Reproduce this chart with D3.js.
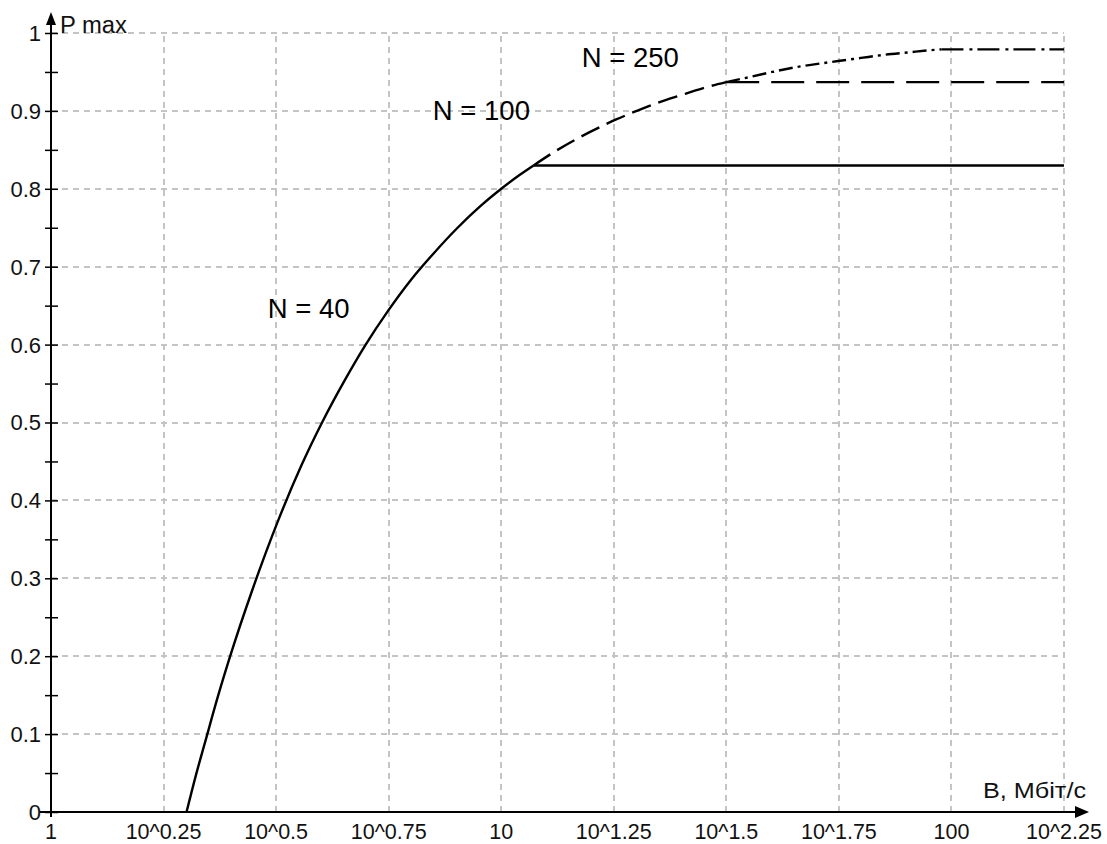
<!DOCTYPE html>
<html>
<head>
<meta charset="utf-8">
<script src="https://cdn.jsdelivr.net/npm/d3@7"></script>
<style>
  html, body { margin: 0; padding: 0; background: #fff; }
  svg { display: block; }
</style>
</head>
<body>
<script>
// values (B in Mbit/s, log axis)
const xTickValues = [1, 10 ** 0.25, 10 ** 0.5, 10 ** 0.75, 10, 10 ** 1.25, 10 ** 1.5, 10 ** 1.75, 100, 10 ** 2.25];
const xTickLabels = ["1", "10^0.25", "10^0.5", "10^0.75", "10", "10^1.25", "10^1.5", "10^1.75", "100", "10^2.25"];
const yTickValues = [0, 0.1, 0.2, 0.3, 0.4, 0.5, 0.6, 0.7, 0.8, 0.9, 1];
const yTickLabels = ["0", "0.1", "0.2", "0.3", "0.4", "0.5", "0.6", "0.7", "0.8", "0.9", "1"];
const yMinorValues = [0.05, 0.15, 0.25, 0.35, 0.45, 0.55, 0.65, 0.75, 0.85, 0.95];

// N = 40 (solid): rising part then flat
const band40 = [2, 2.1, 2.2, 2.35, 2.5, 2.8, 3.2, 3.6, 4, 4.5, 5, 5.6, 6.3, 7.1, 8, 9, 10, 11, 11.8, 177.8];
const pmax40 = [0, 0.048, 0.09, 0.149, 0.2, 0.285, 0.375, 0.445, 0.5, 0.555, 0.6, 0.643, 0.683, 0.718, 0.75, 0.778, 0.8, 0.818, 0.83, 0.83];

// N = 100 (dashed)
const band100 = [11.8, 13, 14.5, 16, 18, 20, 22.4, 25, 28, 31.6, 177.8];
const pmax100 = [0.83, 0.846, 0.862, 0.875, 0.889, 0.9, 0.911, 0.92, 0.929, 0.937, 0.937];

// N = 250 (dash-dot)
const band250 = [31.6, 36, 40, 45, 50, 56, 63, 71, 80, 90, 95, 177.8];
const pmax250 = [0.937, 0.944, 0.95, 0.956, 0.96, 0.964, 0.968, 0.972, 0.975, 0.978, 0.979, 0.979];

const seriesLabels = [
  { text: "N = 40", b: 3.03, p: 0.634 },
  { text: "N = 100", b: 7.05, p: 0.888 },
  { text: "N = 250", b: 15.1, p: 0.956 }
];

const width = 1107;
const height = 844;
const font = "'Liberation Sans', Arial, Helvetica, sans-serif";

const svg = d3.select("body")
  .append("svg")
  .attr("width", width)
  .attr("height", height)
  .attr("viewBox", `0 0 ${width} ${height}`);

const x = d3.scaleLog().domain([1, 10 ** 2.25]).range([51, 1064]);
const y = d3.scaleLinear().domain([0, 1]).range([812, 33]);

// grid
const grid = svg.append("g")
  .attr("stroke", "#c4c4c4")
  .attr("stroke-width", 2)
  .attr("stroke-dasharray", "6,5");

grid.selectAll("line.v")
  .data(xTickValues.slice(1))
  .join("line")
  .attr("class", "v")
  .attr("x1", (d) => Math.round(x(d)))
  .attr("x2", (d) => Math.round(x(d)))
  .attr("y1", y(0))
  .attr("y2", y(1));

grid.selectAll("line.h")
  .data(yTickValues.slice(1))
  .join("line")
  .attr("class", "h")
  .attr("x1", x(1))
  .attr("x2", x(10 ** 2.25))
  .attr("y1", (d) => Math.round(y(d)))
  .attr("y2", (d) => Math.round(y(d)));

// curves
const line = d3.line()
  .x((d) => x(d[0]))
  .y((d) => y(d[1]))
  .curve(d3.curveMonotoneX);

function drawSeries(bands, values, curveDash, flatDash) {
  const pts = bands.map((b, i) => [b, values[i]]);
  const rising = pts.slice(0, -1);
  const flat = pts.slice(-2);
  svg.append("path")
    .attr("d", line(rising))
    .attr("fill", "none")
    .attr("stroke", "#000")
    .attr("stroke-width", 2.4)
    .attr("stroke-dasharray", curveDash);
  svg.append("path")
    .attr("d", d3.line().x((d) => x(d[0])).y((d) => y(d[1]))(flat))
    .attr("fill", "none")
    .attr("stroke", "#000")
    .attr("stroke-width", 2.4)
    .attr("stroke-dasharray", flatDash);
}

drawSeries(band40, pmax40, null, null);
drawSeries(band100, pmax100, "20,8", "33,12");
drawSeries(band250, pmax250, "14,5,3,5", "22,6,3,5");

// y axis
const yAxis = svg.append("g")
  .attr("transform", `translate(${x(1)},0)`)
  .call(d3.axisLeft(y).tickValues(yTickValues.concat(yMinorValues)).tickFormat(() => "").tickSizeOuter(0));
yAxis.select(".domain").remove();
yAxis.selectAll(".tick line")
  .attr("x1", -6)
  .attr("x2", 7)
  .attr("stroke", "#000")
  .attr("stroke-width", 1.5);

svg.append("g")
  .selectAll("text")
  .data(yTickValues)
  .join("text")
  .attr("x", x(1) - 10)
  .attr("y", (d) => y(d))
  .attr("dy", "0.36em")
  .attr("text-anchor", "end")
  .attr("font-family", font)
  .attr("font-size", 22)
  .attr("fill", "#111")
  .text((d, i) => yTickLabels[i]);

svg.append("line")
  .attr("x1", x(1)).attr("x2", x(1))
  .attr("y1", y(0) + 5).attr("y2", 20)
  .attr("stroke", "#000").attr("stroke-width", 2);

svg.append("path")
  .attr("d", `M${x(1)},12 L${x(1) - 5},25 L${x(1) + 5},25 Z`)
  .attr("fill", "#000");

// x axis
svg.append("line")
  .attr("x1", 40).attr("x2", 1080)
  .attr("y1", y(0)).attr("y2", y(0))
  .attr("stroke", "#000").attr("stroke-width", 2);

svg.append("path")
  .attr("d", `M1089,${y(0)} L1075,${y(0) - 6} L1075,${y(0) + 6} Z`)
  .attr("fill", "#000");

svg.append("g")
  .selectAll("text")
  .data(xTickValues)
  .join("text")
  .attr("x", (d) => x(d))
  .attr("y", 839)
  .attr("text-anchor", "middle")
  .attr("font-family", font)
  .attr("font-size", 21.5)
  .attr("fill", "#111")
  .text((d, i) => xTickLabels[i]);

// axis titles
svg.append("text")
  .attr("x", 60)
  .attr("y", 33)
  .attr("font-family", font)
  .attr("font-size", 23)
  .attr("textLength", 67)
  .attr("lengthAdjust", "spacingAndGlyphs")
  .attr("fill", "#111")
  .text("P max");

svg.append("text")
  .attr("x", 983)
  .attr("y", 798)
  .attr("font-family", font)
  .attr("font-size", 22)
  .attr("textLength", 103)
  .attr("lengthAdjust", "spacingAndGlyphs")
  .attr("fill", "#111")
  .text("B, Мбіт/с");

// series labels
svg.append("g")
  .selectAll("text")
  .data(seriesLabels)
  .join("text")
  .attr("x", (d) => x(d.b))
  .attr("y", (d) => y(d.p))
  .attr("font-family", font)
  .attr("font-size", 27.5)
  .attr("fill", "#000")
  .text((d) => d.text);
</script>
</body>
</html>
